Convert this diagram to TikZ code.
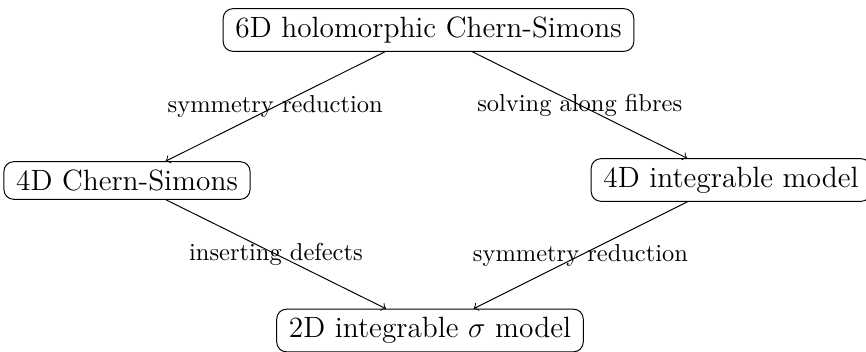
\documentclass[tikz,border=0pt]{standalone}
\begin{document}
\begin{tikzpicture}[x=0.4088pt,y=-0.4088pt,
  box/.style={draw,rounded corners,font=\large,inner xsep=5pt},
  lbl/.style={midway}]
\useasboundingbox (0,0) rectangle (866,352);
\node[box] (top) at (428.5,30) {6D holomorphic Chern-Simons};
\node[box] (left) at (127,180.5) {4D Chern-Simons};
\node[box] (right) at (731,180) {4D integrable model};
\node[box] (bot) at (430,330.5) {2D integrable $\sigma$ model};
\draw[->] (top) -- node[lbl] (l1) {symmetry reduction} (left);
\draw[->] (top) -- node[lbl] (l2) {solving along fibres} (right);
\draw[->] (left) -- node[lbl] (l3) {inserting defects} (bot);
\draw[->] (right) -- node[lbl] (l4) {symmetry reduction} (bot);
\end{tikzpicture}
\end{document}
